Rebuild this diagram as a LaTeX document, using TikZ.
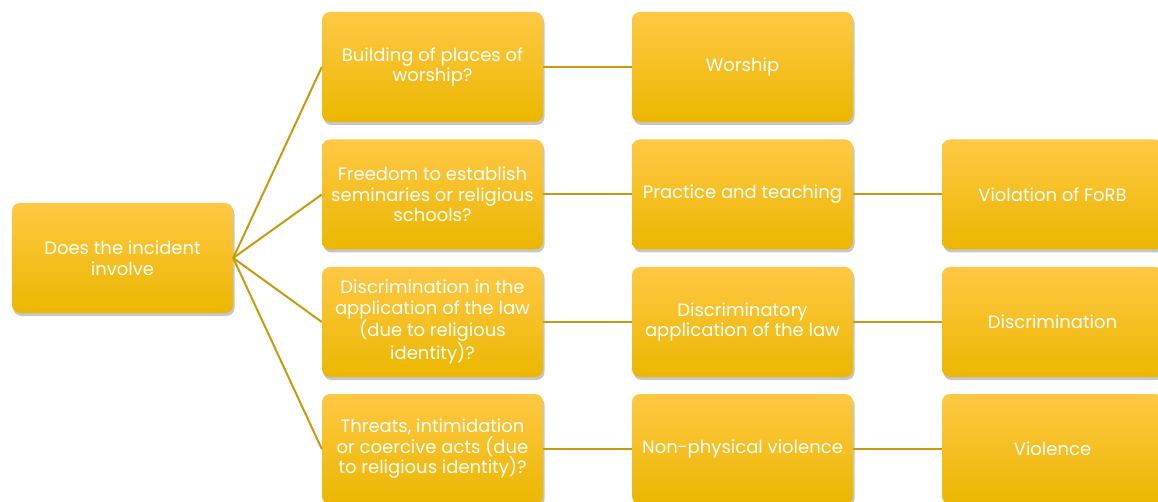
\documentclass[tikz,border=0pt]{standalone}
\usepackage{fontspec}
\setmainfont{Poppins}
\usetikzlibrary{shadows}
\definecolor{boxtop}{HTML}{FFC845}
\definecolor{boxmid}{HTML}{FFC800}
\definecolor{boxbot}{HTML}{EBB700}
\definecolor{linkcol}{HTML}{C99A0C}
\begin{document}
\begin{tikzpicture}[
    x=1pt, y=-1pt,
  b/.style={rounded corners=8pt, minimum width=221pt, minimum height=110pt,
    top color=boxtop, middle color=boxmid, bottom color=boxbot,
    drop shadow={opacity=0.45, shadow xshift=1.5pt, shadow yshift=-3pt},
    text=white, align=center, font=\fontsize{18}{20.5}\selectfont, inner sep=2pt},
  l/.style={linkcol, line width=2pt}
]
\useasboundingbox (0,0) rectangle (1158,502);
% --- root ---
\node[b] (q) at (122.5,258) {Does the incident\\involve};

% --- questions ---
\node[b] (q1) at (432.5,67)  {Building of places of\\worship?};
\node[b] (q2) at (432.5,194.5) {Freedom to establish\\seminaries or religious\\schools?};
\node[b] (q3) at (432.5,322) {Discrimination in the\\application of the law\\(due to religious\\identity)?};
\node[b] (q4) at (432.5,449) {Threats, intimidation\\or coercive acts (due\\to religious identity)?};

% --- categories ---
\node[b] (c1) at (742.5,67)  {Worship};
\node[b] (c2) at (742.5,194.5) {Practice and teaching};
\node[b] (c3) at (742.5,322) {Discriminatory\\application of the law};
\node[b] (c4) at (742.5,449) {Non-physical violence};

% --- outcomes ---
\node[b] (o2) at (1052.5,194.5) {Violation of FoRB};
\node[b] (o3) at (1052.5,322) {Discrimination};
\node[b] (o4) at (1052.5,449) {Violence};

% --- links ---
\foreach \i in {1,...,4} {
  \draw[l] (q.east) -- (q\i.west);
  \draw[l] (q\i.east) -- (c\i.west);
}
\foreach \i in {2,3,4}
  \draw[l] (c\i.east) -- (o\i.west);
\end{tikzpicture}
\end{document}
